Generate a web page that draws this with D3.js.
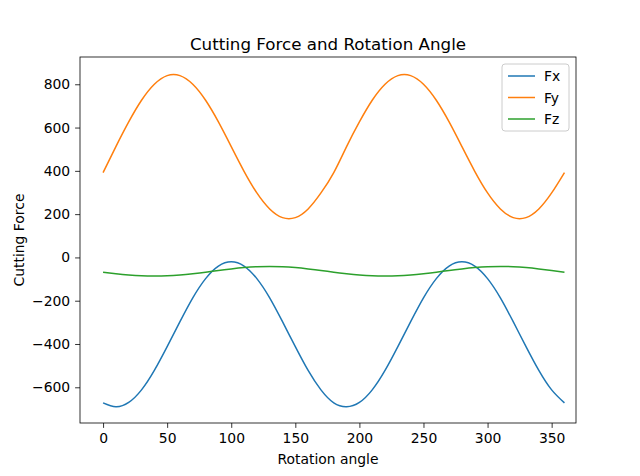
<!DOCTYPE html>
<html><head><meta charset="utf-8">
<script src="https://cdn.jsdelivr.net/npm/d3@7"></script>
<style>body{margin:0;background:#fff}text{font-family:"DejaVu Sans",sans-serif}</style>
</head><body>
<svg width="640" height="476"></svg>
<script>
var angles = d3.range(0, 361, 10);
var fxHalf = [-672,-690,-670,-612,-522,-412,-297,-187,-98,-40,-20,-40,-98,-187,-297,-412,-522,-612];
var fyHalf = [392,512,626,726,800,840,840,800,726,626,512,398,298,224,184,184,224,298];
var fzHalf = [-68,-75,-81,-85,-86,-85,-81,-75,-68,-60,-53,-47,-43,-42,-43,-47,-53,-60];
var fx = fxHalf.concat(fxHalf, [fxHalf[0]]);
var fy = fyHalf.concat(fyHalf, [fyHalf[0]]);
var fz = fzHalf.concat(fzHalf, [fzHalf[0]]);
var series = [
  { name: "Fx", values: fx, color: "#1f77b4" },
  { name: "Fy", values: fy, color: "#ff7f0e" },
  { name: "Fz", values: fz, color: "#2ca02c" }
];
var xTicks = [0, 50, 100, 150, 200, 250, 300, 350];
var yTicks = [-600, -400, -200, 0, 200, 400, 600, 800];

var svg = d3.select("svg"),
    margin = { top: 57, right: 64, bottom: 53, left: 80 },
    width = 640 - margin.left - margin.right,
    height = 476 - margin.top - margin.bottom;

var x = d3.scaleLinear().domain([-18, 369]).range([0, width]);
var y = d3.scaleLinear().domain([-765, 926]).range([height, 0]);

var g = svg.append("g").attr("transform", "translate(" + margin.left + "," + margin.top + ")");

var line = d3.line()
    .x(function(d, i) { return x(angles[i]); })
    .y(function(d) { return y(d); })
    .curve(d3.curveNatural);

series.forEach(function(s) {
  g.append("path").attr("d", line(s.values))
    .attr("fill", "none").attr("stroke", s.color).attr("stroke-width", 1.5);
});

var xa = g.append("g").attr("transform", "translate(0," + height + ")")
    .call(d3.axisBottom(x).tickValues(xTicks).tickSize(4.9).tickPadding(4.9));
var ya = g.append("g").call(d3.axisLeft(y).tickValues(yTicks).tickSize(4.9).tickPadding(4.9)
    .tickFormat(function(d) { return d < 0 ? "\u2212" + (-d) : d; }));
[xa, ya].forEach(function(a) {
  a.select(".domain").remove();
  a.selectAll("text").attr("font-size", 13.9).attr("fill", "#000").style("font-family", "DejaVu Sans");
  a.selectAll("line").attr("stroke", "#000").attr("stroke-width", 0.8);
});
g.append("rect").attr("width", width).attr("height", height)
  .attr("fill", "none").attr("stroke", "#000").attr("stroke-width", 0.8);

svg.append("text").attr("x", margin.left + width / 2).attr("y", 50)
  .attr("text-anchor", "middle").attr("font-size", 16.7).text("Cutting Force and Rotation Angle");
svg.append("text").attr("x", margin.left + width / 2).attr("y", 464)
  .attr("text-anchor", "middle").attr("font-size", 13.9).text("Rotation angle");
svg.append("text").attr("transform", "rotate(-90)").attr("x", -(margin.top + height / 2)).attr("y", 24)
  .attr("text-anchor", "middle").attr("font-size", 13.9).text("Cutting Force");

var lg = g.append("g").attr("transform", "translate(" + (width - 74) + ",7)");
lg.append("rect").attr("width", 67).attr("height", 67).attr("rx", 3)
  .attr("fill", "#fff").attr("fill-opacity", 0.8).attr("stroke", "#ccc");
series.forEach(function(s, i) {
  var yy = 12 + i * 21.5;
  lg.append("line").attr("x1", 6).attr("x2", 33).attr("y1", yy).attr("y2", yy)
    .attr("stroke", s.color).attr("stroke-width", 1.5);
  lg.append("text").attr("x", 42).attr("y", yy + 5).attr("font-size", 13.9).text(s.name);
});
</script>
</body></html>
